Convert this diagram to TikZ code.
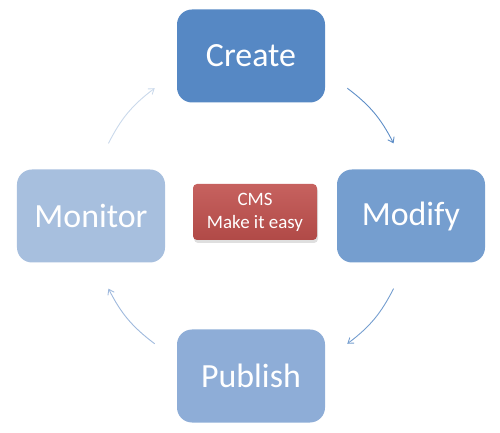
\documentclass[tikz,border=0pt]{standalone}
\usepackage{fontspec}
\setmainfont{Carlito}
\usetikzlibrary{arrows.meta, positioning, shadows}
\definecolor{createblue}{RGB}{86,136,196}
\definecolor{modifyblue}{RGB}{117,158,207}
\definecolor{publishblue}{RGB}{142,173,215}
\definecolor{monitorblue}{RGB}{167,191,222}
\definecolor{hubred}{RGB}{192,80,77}
\tikzstyle{stage} = [rectangle, rounded corners=15bp, minimum width=148bp, minimum height=93bp, inner sep=0pt, text centered, text=white, font=\fontsize{34}{40}\selectfont]
\tikzstyle{hubbox} = [rectangle, rounded corners=4bp, minimum width=124bp, minimum height=56bp, inner sep=0pt, align=center, text=white, font=\fontsize{19}{23}\selectfont]
\tikzstyle{flow} = [line width=0.9bp, -{Straight Barb[length=5bp, width=7bp]}]

\begin{document}
\begin{tikzpicture}[x=1bp, y=1bp, node distance=160bp]
\useasboundingbox (0,0) rectangle (500,433);

\coordinate (mid) at (251,217);

% Etapas do ciclo
\node (create)  [stage, fill=createblue, above of=mid] {Create};
\node (modify)  [stage, fill=modifyblue, right of=mid] {Modify};
\node (publish) [stage, fill=publishblue, below of=mid] {Publish};
\node (monitor) [stage, fill=monitorblue, left of=mid] {Monitor};

% Caixa central
\node (hub) [hubbox, top color=hubred!90!white, bottom color=hubred!92!black,
  drop shadow={opacity=0.25, shadow xshift=1bp, shadow yshift=-3bp}] at (255,221) {CMS\\Make it easy};

% Pontas das setas no circulo
\path (mid) ++(53:160) coordinate (c1s);
\path (mid) ++(27:160) coordinate (c1e);
\path (mid) ++(-27:160) coordinate (c2s);
\path (mid) ++(-53:160) coordinate (c2e);
\path (mid) ++(-127:160) coordinate (c3s);
\path (mid) ++(-153:160) coordinate (c3e);
\path (mid) ++(153:160) coordinate (c4s);
\path (mid) ++(127:160) coordinate (c4e);

% Setas do ciclo
\draw [flow, draw=createblue!95!white] (c1s) to[bend left=13] (c1e);
\draw [flow, draw=modifyblue] (c2s) to[bend left=13] (c2e);
\draw [flow, draw=publishblue!85!white] (c3s) to[bend left=13] (c3e);
\draw [flow, draw=monitorblue!60!white] (c4s) to[bend left=13] (c4e);

\end{tikzpicture}
\end{document}
